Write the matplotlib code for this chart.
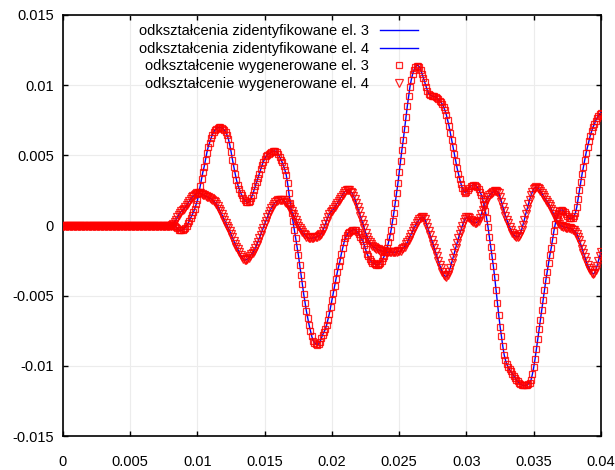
import numpy as np
import matplotlib
matplotlib.use("Agg")
import matplotlib.pyplot as plt

plt.rcParams['font.family'] = ['Liberation Sans', 'DejaVu Sans']

# time axis, step 0.0001 s
t = np.round(np.arange(401) * 1e-4, 4)

# strain values (x 1e-3), zero up to t = 0.0079
el3_k = [0.0] * 80 + [
    0, 0, 0, -0.05, -0.1, -0.2, -0.3, -0.35, -0.35, -0.3,
    -0.25, -0.15, 0.0, 0.15, 0.35, 0.55, 0.75, 0.95, 1.2, 1.5,
    1.8, 2.3, 2.8, 3.3, 3.8, 4.2, 4.7, 5.2, 5.6, 5.9,
    6.2, 6.45, 6.65, 6.8, 6.9, 6.95, 7.0, 7.0, 6.95, 6.9,
    6.8, 6.65, 6.45, 6.15, 5.75, 5.25, 4.7, 4.2, 3.7, 3.25,
    2.9, 2.6, 2.35, 2.15, 1.95, 1.8, 1.7, 1.65, 1.65, 1.75,
    1.95, 2.2, 2.5, 2.8, 3.1, 3.4, 3.7, 4.0, 4.3, 4.55,
    4.75, 4.95, 5.05, 5.1, 5.15, 5.25, 5.3, 5.3, 5.3, 5.25,
    5.1, 4.9, 4.7, 4.5, 4.25, 3.95, 3.6, 3.0, 2.3, 1.6,
    0.9, 0.3, -0.3, -0.9, -1.5, -2.1, -2.8, -3.5, -4.2, -4.9,
    -5.5, -6.1, -6.6, -7.1, -7.5, -7.9, -8.2, -8.35, -8.45, -8.5,
    -8.45, -8.3, -8.05, -7.8, -7.6, -7.4, -7.1, -6.7, -6.3, -5.8,
    -5.3, -4.8, -4.3, -3.8, -3.3, -2.9, -2.5, -2.0, -1.6, -1.2,
    -0.9, -0.7, -0.55, -0.45, -0.4, -0.35, -0.3, -0.3, -0.35, -0.45,
    -0.6, -0.8, -0.95, -1.1, -1.4, -1.7, -2.0, -2.2, -2.4, -2.55,
    -2.65, -2.7, -2.75, -2.8, -2.8, -2.75, -2.65, -2.5, -2.35, -2.15,
    -1.9, -1.6, -1.2, -0.8, -0.3, 0.3, 0.9, 1.6, 2.3, 3.0,
    3.8, 4.6, 5.4, 6.1, 6.9, 7.7, 8.5, 9.2, 9.9, 10.4,
    10.8, 11.1, 11.3, 11.4, 11.4, 11.3, 11.1, 10.8, 10.5, 10.2,
    9.9, 9.6, 9.4, 9.3, 9.25, 9.2, 9.2, 9.15, 9.1, 9.0,
    8.9, 8.8, 8.65, 8.45, 8.2, 7.9, 7.5, 7.1, 6.6, 6.1,
    5.6, 5.1, 4.6, 4.1, 3.7, 3.3, 2.95, 2.65, 2.45, 2.35,
    2.4, 2.55, 2.7, 2.8, 2.85, 2.9, 2.9, 2.85, 2.75, 2.6,
    2.4, 2.2, 1.9, 1.5, 1.05, 0.5, -0.1, -0.8, -1.5, -2.2,
    -2.9, -3.7, -4.6, -5.5, -6.4, -7.2, -7.9, -8.6, -9.2, -9.6,
    -9.9, -10.1, -10.25, -10.4, -10.55, -10.7, -10.85, -11.0, -11.1, -11.2,
    -11.3, -11.35, -11.4, -11.4, -11.4, -11.35, -11.3, -11.2, -11.0, -10.6,
    -10.1, -9.5, -8.8, -8.1, -7.4, -6.7, -6.0, -5.3, -4.6, -3.9,
    -3.3, -2.7, -2.1, -1.6, -1.0, -0.4, 0.1, 0.5, 0.8, 1.0,
    1.1, 1.1, 1.05, 0.95, 0.8, 0.65, 0.55, 0.5, 0.5, 0.55,
    0.7, 0.9, 1.3, 1.9, 2.5, 3.1, 3.7, 4.2, 4.7, 5.2,
    5.6, 6.0, 6.4, 6.7, 7.0, 7.2, 7.45, 7.65, 7.8, 7.95,
    8.05]

el4_k = [0.0] * 80 + [
    0.0, 0.05, 0.1, 0.25, 0.4, 0.6, 0.75, 0.9, 1.0, 1.1,
    1.2, 1.3, 1.45, 1.6, 1.75, 1.9, 2.0, 2.1, 2.2, 2.25,
    2.3, 2.3, 2.3, 2.25, 2.2, 2.15, 2.1, 2.05, 2.0, 1.95,
    1.9, 1.85, 1.75, 1.65, 1.55, 1.4, 1.2, 1.0, 0.8, 0.6,
    0.4, 0.2, 0.0, -0.2, -0.4, -0.6, -0.85, -1.1, -1.3, -1.5,
    -1.7, -1.9, -2.1, -2.25, -2.4, -2.45, -2.45, -2.4, -2.3, -2.2,
    -2.05, -1.95, -1.8, -1.6, -1.4, -1.15, -0.9, -0.65, -0.4, -0.15,
    0.1, 0.35, 0.6, 0.85, 1.05, 1.25, 1.4, 1.55, 1.65, 1.75,
    1.8, 1.85, 1.85, 1.85, 1.8, 1.7, 1.6, 1.45, 1.3, 1.15,
    1.0, 0.8, 0.6, 0.4, 0.2, 0.0, -0.15, -0.3, -0.45, -0.6,
    -0.7, -0.8, -0.85, -0.9, -0.9, -0.9, -0.9, -0.85, -0.85, -0.8,
    -0.75, -0.7, -0.6, -0.4, -0.2, 0.1, 0.35, 0.6, 0.8, 0.95,
    1.05, 1.15, 1.3, 1.45, 1.6, 1.75, 1.9, 2.05, 2.2, 2.35,
    2.45, 2.5, 2.55, 2.5, 2.4, 2.3, 2.1, 1.9, 1.6, 1.3,
    1.0, 0.7, 0.4, 0.1, -0.2, -0.5, -0.8, -1.0, -1.2, -1.35,
    -1.45, -1.55, -1.6, -1.65, -1.7, -1.75, -1.8, -1.8, -1.85, -1.85,
    -1.9, -1.9, -1.9, -1.9, -1.9, -1.9, -1.9, -1.9, -1.9, -1.85,
    -1.85, -1.8, -1.7, -1.6, -1.5, -1.35, -1.2, -1.0, -0.8, -0.6,
    -0.4, -0.2, 0.0, 0.15, 0.3, 0.45, 0.55, 0.6, 0.6, 0.45,
    0.2, -0.1, -0.4, -0.7, -1.0, -1.3, -1.6, -1.9, -2.2, -2.5,
    -2.8, -3.05, -3.3, -3.5, -3.6, -3.65, -3.55, -3.3, -3.0, -2.65,
    -2.3, -1.95, -1.6, -1.25, -0.9, -0.6, -0.3, 0.0, 0.25, 0.45,
    0.6, 0.6, 0.5, 0.4, 0.3, 0.25, 0.2, 0.2, 0.25, 0.35,
    0.55, 0.8, 1.1, 1.4, 1.65, 1.8, 2.0, 2.15, 2.25, 2.35,
    2.4, 2.45, 2.45, 2.4, 2.3, 2.0, 1.7, 1.35, 1.0, 0.7,
    0.4, 0.15, -0.1, -0.3, -0.5, -0.65, -0.75, -0.8, -0.8, -0.75,
    -0.6, -0.3, 0.05, 0.4, 0.8, 1.15, 1.5, 1.85, 2.15, 2.4,
    2.6, 2.7, 2.75, 2.7, 2.6, 2.45, 2.3, 2.15, 2.0, 1.85,
    1.7, 1.55, 1.4, 1.2, 1.0, 0.8, 0.6, 0.4, 0.25, 0.1,
    0.0, -0.05, -0.1, -0.1, -0.15, -0.15, -0.2, -0.2, -0.25, -0.3,
    -0.35, -0.45, -0.6, -0.8, -1.05, -1.35, -1.65, -1.95, -2.25, -2.55,
    -2.8, -3.0, -3.2, -3.35, -3.45, -3.4, -3.2, -2.9, -2.55, -2.2,
    -1.9]

el3 = np.array(el3_k) * 1e-3
el4 = np.array(el4_k) * 1e-3

labels = ["odkształcenia zidentyfikowane el. 3",
          "odkształcenia zidentyfikowane el. 4",
          "odkształcenie wygenerowane el. 3",
          "odkształcenie wygenerowane el. 4"]
xticks = [0, 0.005, 0.01, 0.015, 0.02, 0.025, 0.03, 0.035, 0.04]
xtick_labels = ["0", "0.005", "0.01", "0.015", "0.02", "0.025", "0.03", "0.035", "0.04"]
yticks = [-0.015, -0.01, -0.005, 0, 0.005, 0.01, 0.015]
ytick_labels = ["-0.015", "-0.01", "-0.005", "0", "0.005", "0.01", "0.015"]

fig = plt.figure(figsize=(6.15, 4.70), dpi=100)
ax = fig.add_axes([0.1024, 0.0723, 0.8748, 0.8958])

ax.plot(t, el3, color='blue', lw=1.0, label=labels[0], zorder=3)
ax.plot(t, el4, color='blue', lw=1.0, label=labels[1], zorder=3)
ax.plot(t, el3, ls='none', marker='s', ms=5, mfc='none', mec='red', mew=0.9,
        alpha=0.85, label=labels[2], zorder=4)
ax.plot(t, el4, ls='none', marker='v', ms=6, mfc='none', mec='red', mew=0.9,
        alpha=0.85, label=labels[3], zorder=4)

ax.set_xlim(0, 0.04)
ax.set_ylim(-0.015, 0.015)
ax.set_xticks(xticks)
ax.set_xticklabels(xtick_labels)
ax.set_yticks(yticks)
ax.set_yticklabels(ytick_labels)
ax.tick_params(direction='in', top=True, right=True, length=3.5, width=1,
               labelsize=10.5)
ax.tick_params(axis='x', pad=14)
ax.tick_params(axis='y', pad=6.5)
ax.grid(True, color='#ececec', lw=0.8)
ax.set_axisbelow(True)
for s in ax.spines.values():
    s.set_linewidth(1.2)

ax.legend(loc='upper right', bbox_to_anchor=(0.66, 0.979), frameon=False,
          markerfirst=False, fontsize=10.5, handlelength=2.6,
          handletextpad=0.75, labelspacing=0.26, borderpad=0,
          borderaxespad=0)

fig.savefig("out.png", dpi=100)
